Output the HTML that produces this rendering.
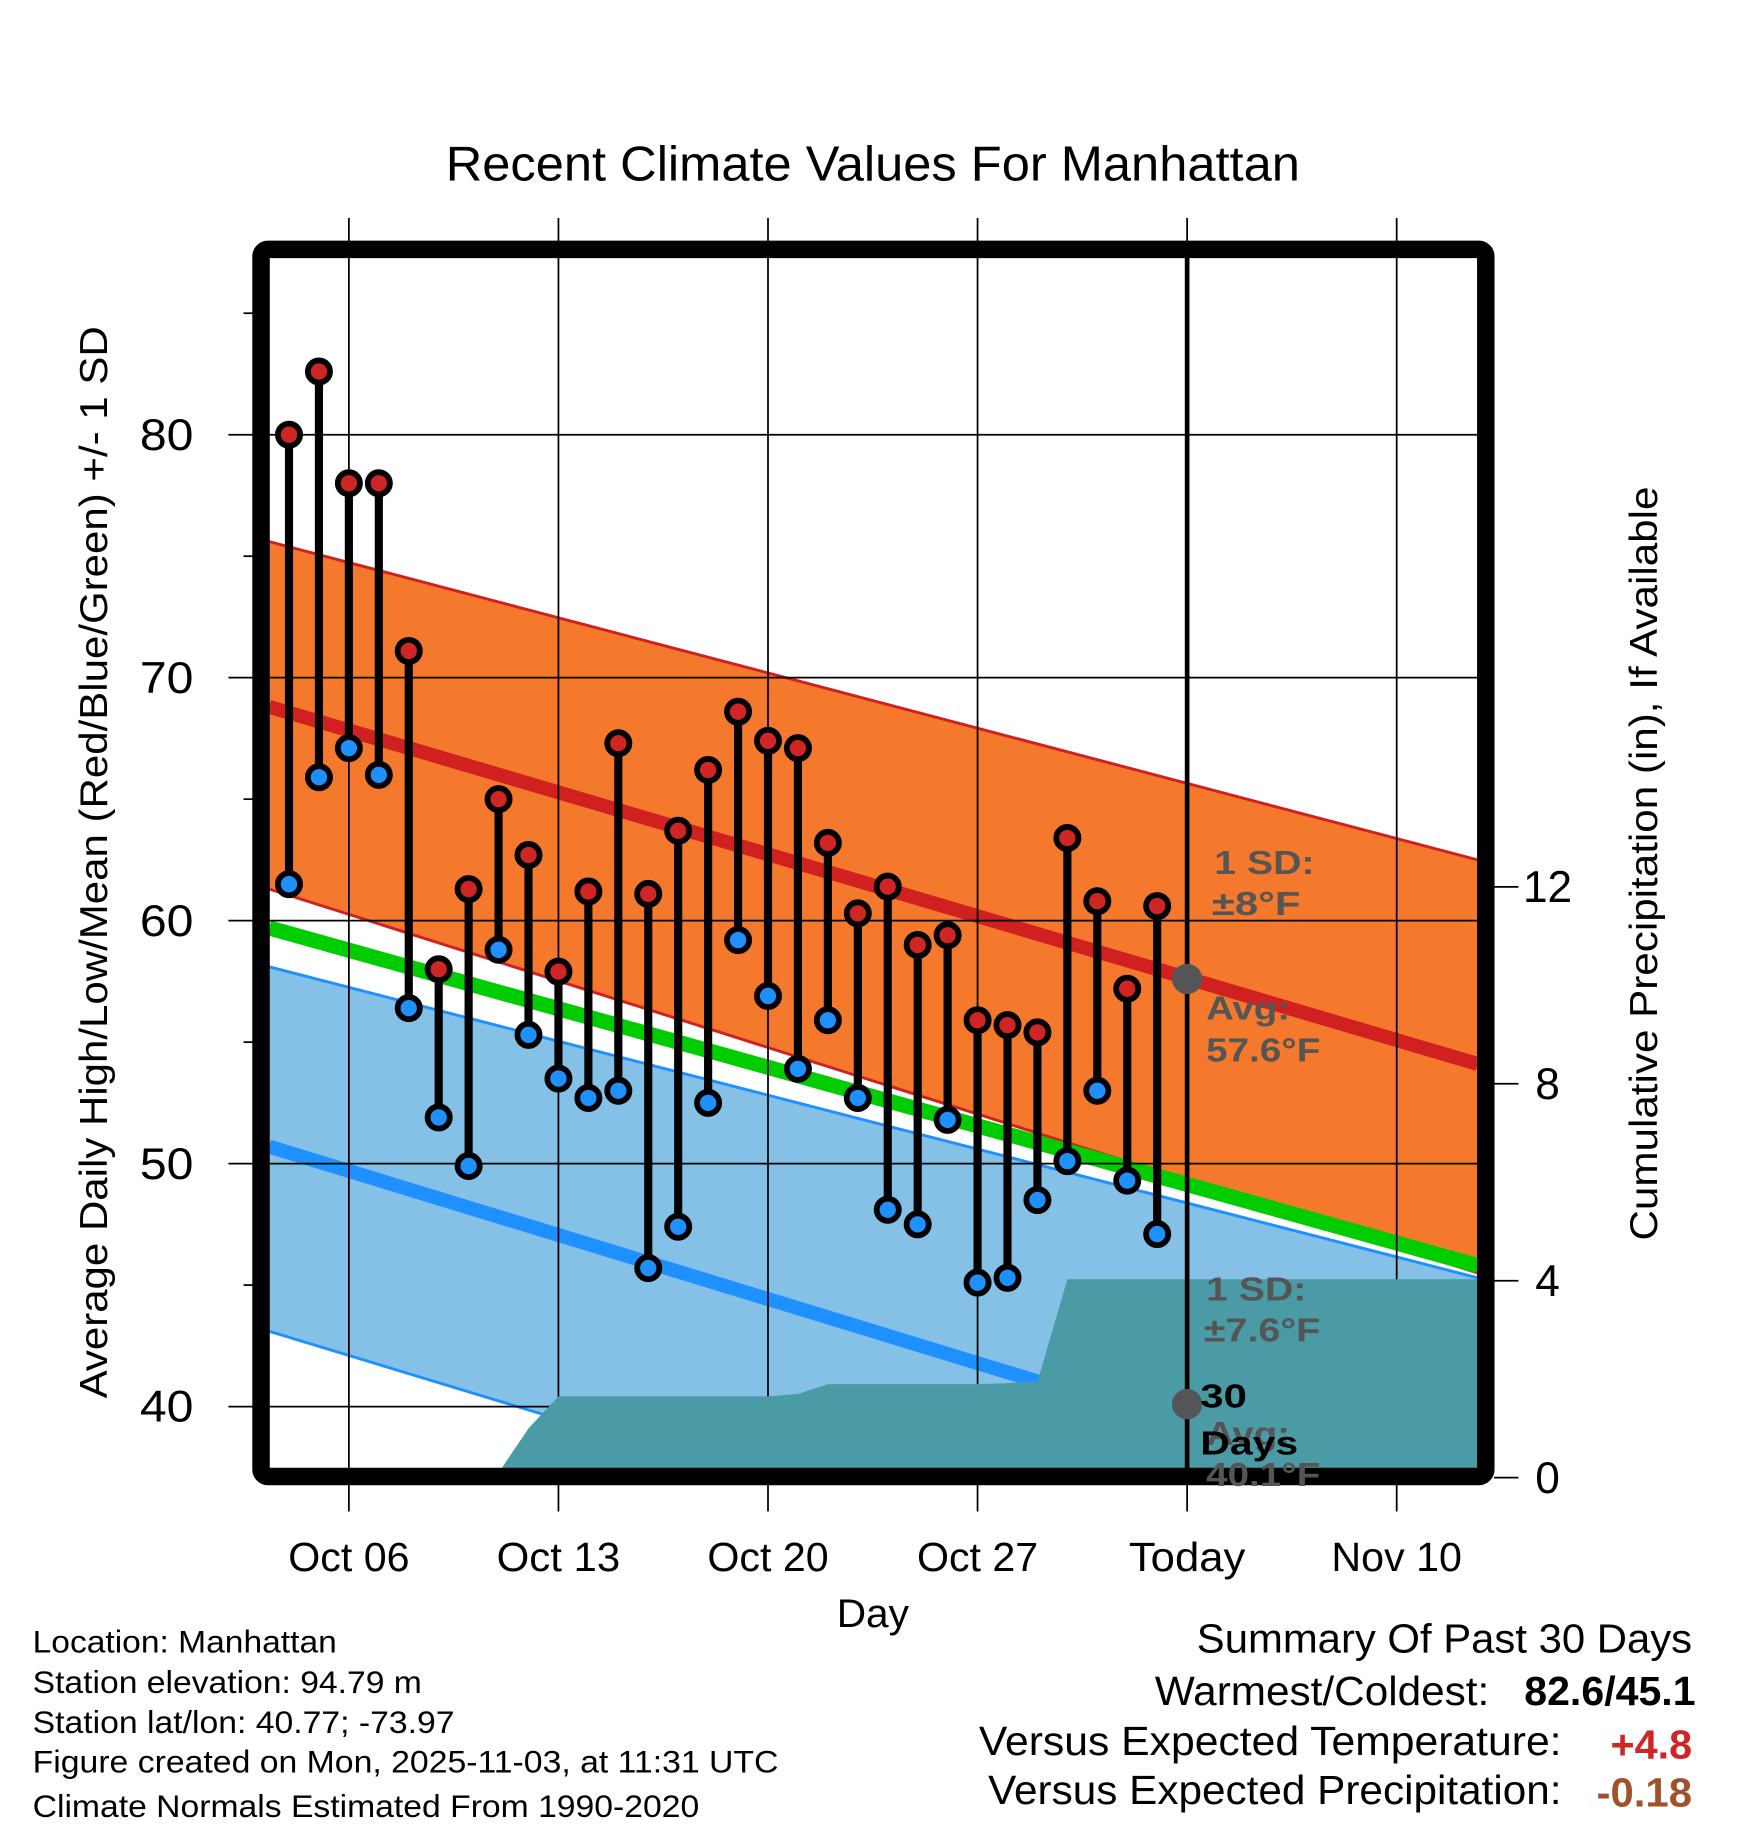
<!DOCTYPE html>
<html><head><meta charset="utf-8"><style>
html,body{margin:0;padding:0;background:#fff}
svg{display:block}
text{font-family:"Liberation Sans",Arial,sans-serif}
</style></head><body>
<svg id="chart" width="1748" height="1828" viewBox="0 0 1500 1568.6" xmlns="http://www.w3.org/2000/svg">
<g id="plot"></g>
</svg>
<script>
const days = [0,1,2,3,4,5,6,7,8,9,10,11,12,13,14,15,16,17,18,19,20,21,22,23,24,25,26,27,28,29];
const highs = [80.0,82.6,78.0,78.0,71.1,58.0,61.3,65.0,62.7,57.9,61.2,67.3,61.1,63.7,66.2,68.6,67.4,67.1,63.2,60.3,61.4,59.0,59.4,55.9,55.7,55.4,63.4,60.8,57.2,60.6];
const lows = [61.5,65.9,67.1,66.0,56.4,51.9,49.9,58.8,55.3,53.5,52.7,53.0,45.7,47.4,52.5,59.2,56.9,53.9,55.9,52.7,48.1,47.5,51.8,45.1,45.3,48.5,50.1,53.0,49.3,47.1];
const precip = [0,0,0,0,0,0,0.05,0.1,1.0,1.65,1.65,1.65,1.65,1.65,1.65,1.65,1.65,1.7,1.9,1.9,1.9,1.9,1.9,1.9,1.92,1.95,4.03,4.03,4.03,4.03];
const xTickLabels = ["Oct 06","Oct 13","Oct 20","Oct 27","Today","Nov 10"];
const xTickDays = [2,9,16,23,30,37];
const yTicks = [40,50,60,70,80];
const y2Ticks = [0,4,8,12];
const normStartEnd = {hiSDtop:[75.6,62.5], hiMean:[68.8,54.1], hiSDbot:[61.3,45.5], mean:[59.7,45.8], loSDtop:[58.1,45.3], loMean:[50.7,35.5], loSDbot:[43.1,28.0]};

const X0=231,X1=1268,Y0=221,Y1=1260;
const dayX = d => 248 + d*25.69;
const tY = v => 1207 - (v-40)*20.85;
const pY = v => 1268 - v*42.25;
const dS = (X0-248)/25.69, dE=(X1-248)/25.69;
const NS='http://www.w3.org/2000/svg';
const plot=document.getElementById('plot');
function mk(tag,attrs,parent){const e=document.createElementNS(NS,tag);for(const k in attrs)e.setAttribute(k,attrs[k]);(parent||plot).appendChild(e);return e;}
function lineAt(key,d){const [a,b]=normStartEnd[key];return a+(b-a)*(d-dS)/(dE-dS);}

const defs=mk('defs',{});
const cp=mk('clipPath',{id:'clip'},defs);
mk('rect',{x:X0,y:Y0,width:X1-X0,height:Y1-Y0},cp);
const g=mk('g',{'clip-path':'url(#clip)'});

function band(top,bot,fill,name){
  const p=mk('polygon',{points:`${X0},${tY(lineAt(top,dS))} ${X1},${tY(lineAt(top,dE))} ${X1},${tY(lineAt(bot,dE))} ${X0},${tY(lineAt(bot,dS))}`,fill:fill},g);
  
  
}
function nline(key,color,w,name){
  const l=mk('line',{x1:X0,y1:tY(lineAt(key,dS)),x2:X1,y2:tY(lineAt(key,dE)),stroke:color,'stroke-width':w},g);
  
  
}
band('hiSDtop','hiSDbot','#f5792d','high-sd-band');
band('loSDtop','loSDbot','#85c1e6','low-sd-band');
nline('hiSDtop','#d02020',2.5,'high-sd-upper');
nline('hiSDbot','#d02020',2.5,'high-sd-lower');
nline('loSDtop','#1e90ff',2.5,'low-sd-upper');
nline('loSDbot','#1e90ff',2.5,'low-sd-lower');
nline('mean','#00cc00',13,'mean-normal-line');
nline('hiMean','#d02020',12,'high-normal-line');
nline('loMean','#1e90ff',12,'low-normal-line');

yTicks.forEach(v=>{const l=mk('line',{x1:X0,x2:X1,y1:tY(v),y2:tY(v),stroke:'#000','stroke-width':1.5},g);

});
xTickDays.forEach(d=>{const l=mk('line',{x1:dayX(d),x2:dayX(d),y1:Y0,y2:Y1,stroke:'#000','stroke-width':1.5},g);

});

let pts=`${X0},${Y1+10} ${X0},${pY(0)} `;
days.forEach((d,i)=>{pts+=`${dayX(d)},${pY(precip[i])} `;});
pts+=`${X1},${pY(precip[precip.length-1])} ${X1},${Y1+10}`;
const pa=mk('polygon',{points:pts,fill:'#4a9ba6'},g);



const tl=mk('line',{x1:dayX(30),x2:dayX(30),y1:Y0,y2:Y1,stroke:'#000','stroke-width':4},g);



function txt(x,y,s,attrs,name,len){const a=Object.assign({x:x,y:y},attrs);if(len){a.textLength=len;a.lengthAdjust='spacingAndGlyphs';}const t=mk('text',a);t.textContent=s;return t;}
const ga={fill:'#555','font-size':29,'font-weight':'bold'};
txt(1042,750,'1 SD:',ga,'high-sd-label',86);
txt(1040,785,'±8°F',ga,'high-sd-value',76);
const d1=mk('circle',{cx:dayX(30),cy:tY(57.6),r:13,fill:'#555'});

txt(1035,875,'Avg:',ga,'avg-high-label',72);
txt(1035,911,'57.6°F',ga,'avg-high-value',98);
txt(1035,1116,'1 SD:',ga,'low-sd-label',86);
txt(1033,1151,'±7.6°F',ga,'low-sd-value',100);

days.forEach((d,i)=>{
  const s=mk('line',{x1:dayX(d),x2:dayX(d),y1:tY(highs[i]),y2:tY(lows[i]),stroke:'#000','stroke-width':7});
  
  
});
days.forEach((d,i)=>{
  const h=mk('circle',{cx:dayX(d),cy:tY(highs[i]),r:9.5,fill:'#d02525',stroke:'#000','stroke-width':5});
  
  
  const l=mk('circle',{cx:dayX(d),cy:tY(lows[i]),r:9.5,fill:'#1e90ff',stroke:'#000','stroke-width':5});
  
  
});

const fr=mk('rect',{x:224,y:214,width:1051,height:1053,fill:'none',stroke:'#000','stroke-width':15,rx:6});



xTickDays.forEach(d=>{
  const a=mk('line',{x1:dayX(d),x2:dayX(d),y1:187,y2:207,stroke:'#000','stroke-width':1.5});
  
  const b=mk('line',{x1:dayX(d),x2:dayX(d),y1:1274,y2:1297,stroke:'#000','stroke-width':1.5});
  
});
const d2=mk('circle',{cx:dayX(30),cy:tY(40.1),r:13,fill:'#555'});

txt(1035,1240,'Avg:',ga,'avg-30day-label',72);
txt(1035,1275,'40.1°F',ga,'avg-30day-value',98);
const ba={fill:'#000','font-size':29,'font-weight':'bold'};
txt(1030,1208,'30',ba,'days-30-label',40);
txt(1030,1248,'Days',ba,'days-label',84);

yTicks.forEach(v=>{const t=mk('line',{x1:196,x2:217,y1:tY(v),y2:tY(v),stroke:'#000','stroke-width':1.5});

txt(143,tY(v)+13,String(v),{'font-size':38,'text-anchor':'middle'},'y-tick-label',46);});
[45,55,65,75,85].forEach(v=>{const t=mk('line',{x1:209,x2:217,y1:tY(v),y2:tY(v),stroke:'#000','stroke-width':1.5});
});
y2Ticks.forEach(v=>{const t=mk('line',{x1:1282,x2:1303,y1:pY(v),y2:pY(v),stroke:'#000','stroke-width':1.5});

txt(1328,pY(v)+13,String(v),{'font-size':38,'text-anchor':'middle'},'y2-tick-label');});
const xLens=[104,106,104,104,100,112];
xTickDays.forEach((d,i)=>{txt(dayX(d),1348,xTickLabels[i],{'font-size':35,'text-anchor':'middle'},'x-tick-label',xLens[i]);});

txt(749,155,'Recent Climate Values For Manhattan',{'font-size':42,'text-anchor':'middle'},'chart-title',733);
txt(749,1396,'Day',{'font-size':34,'text-anchor':'middle'},'x-axis-title',62);
txt(0,0,'Average Daily High/Low/Mean (Red/Blue/Green) +/- 1 SD',{'font-size':33,'text-anchor':'middle',transform:'translate(92,740) rotate(-90)'},'y-axis-title',920);
txt(0,0,'Cumulative Precipitation (in), If Available',{'font-size':33,'text-anchor':'middle',transform:'translate(1422,741) rotate(-90)'},'y2-axis-title',647);

const fa={'font-size':27};
txt(28,1418,'Location: Manhattan',fa,'location-text',261);
txt(28,1453,'Station elevation: 94.79 m',fa,'elevation-text',334);
txt(28,1487,'Station lat/lon: 40.77; -73.97',fa,'latlon-text',362);
txt(28,1521,'Figure created on Mon, 2025-11-03, at 11:31 UTC',fa,'created-text',640);
txt(28,1559,'Climate Normals Estimated From 1990-2020',fa,'normals-text',572);
const sa={'font-size':35,'text-anchor':'end'};
txt(1452,1418,'Summary Of Past 30 Days',sa,'summary-title',425);
txt(1278,1463,'Warmest/Coldest:',sa,'warmest-label',287);
txt(1455,1463,'82.6/45.1',{'font-size':35,'text-anchor':'end','font-weight':'bold'},'warmest-value',147);
txt(1340,1506,'Versus Expected Temperature:',sa,'temp-anomaly-label',500);
txt(1452,1509,'+4.8',{'font-size':35,'text-anchor':'end','font-weight':'bold',fill:'#d02525'},'temp-anomaly-value',70);
txt(1340,1548,'Versus Expected Precipitation:',sa,'precip-anomaly-label',492);
txt(1452,1550,'-0.18',{'font-size':35,'text-anchor':'end','font-weight':'bold',fill:'#a0522d'},'precip-anomaly-value',82);
</script>
</body></html>
